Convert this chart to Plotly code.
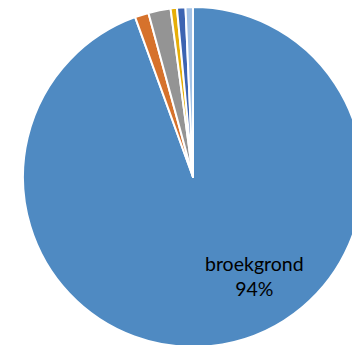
import plotly.graph_objects as go

labels = ["broekgrond", "cat2", "cat3", "cat4", "cat5", "cat6"]
values = [94.0, 1.3, 2.1, 0.6, 0.8, 0.7]
label_text = "broekgrond<br>94%"
colors = ["#4F8AC2", "#D6722C", "#949494", "#E6AE08", "#3C64B2", "#A3C2E6"]

fig = go.Figure(go.Pie(
    labels=labels,
    values=values,
    textinfo="none",
    sort=False,
    direction="clockwise",
    rotation=0,
    marker=dict(colors=colors, line=dict(color="white", width=2)),
    showlegend=False,
    hoverinfo="label+percent",
))

fig.add_annotation(
    text=label_text,
    xref="paper", yref="paper",
    x=0.682, y=0.209,
    xanchor="center", yanchor="middle",
    showarrow=False,
    font=dict(family="Lato", size=19.5, color="black"),
)

fig.update_layout(
    width=363, height=347,
    margin=dict(l=23, r=0, t=7, b=0),
    paper_bgcolor="white",
    plot_bgcolor="white",
)

fig.write_html(
    "out.html",
    config={"displayModeBar": False},
    post_script="document.body.style.margin='0';document.body.style.overflow='hidden';document.documentElement.style.overflow='hidden';",
)
